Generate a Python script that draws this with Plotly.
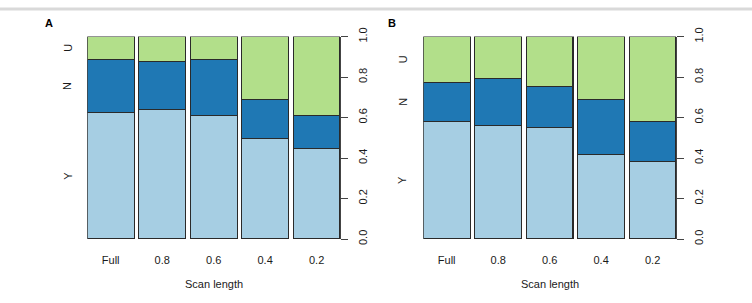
import plotly.graph_objects as go

categories = ["Full", "0.8", "0.6", "0.4", "0.2"]
# Panel A proportions
a_Y = [0.623, 0.640, 0.610, 0.498, 0.447]
a_N = [0.263, 0.236, 0.276, 0.192, 0.162]
a_U = [0.114, 0.124, 0.114, 0.310, 0.391]
# Panel B proportions
b_Y = [0.581, 0.560, 0.549, 0.416, 0.385]
b_N = [0.192, 0.235, 0.204, 0.274, 0.196]
b_U = [0.227, 0.205, 0.247, 0.310, 0.419]

series_names = ["Y", "N", "U"]
colors = {"Y": "#A6CEE3", "N": "#1F78B4", "U": "#B2DF8A"}

W, H = 752, 303
FONT = "Liberation Sans, Arial, sans-serif"
TXT = "#1a1a1a"

fig = go.Figure()

panels = [
    ("x", "y", {"Y": a_Y, "N": a_N, "U": a_U}),
    ("x2", "y2", {"Y": b_Y, "N": b_N, "U": b_U}),
]
for xa, ya, data in panels:
    for s in series_names:
        fig.add_trace(go.Bar(
            x=categories, y=data[s], name=s, xaxis=xa, yaxis=ya,
            marker=dict(color=colors[s], line=dict(color="#2a2a2a", width=1.1)),
            showlegend=False, hoverinfo="skip",
        ))

px = lambda v: v / W
py = lambda v: (H - v) / H

y_dom = [py(242), py(29)]
xA = [px(87.3), px(340)]
xB = [px(423.3), px(676)]
xrange = [-0.4545, 4.4545]

xcommon = dict(type="category", range=xrange, showline=False, showgrid=False,
               zeroline=False, ticks="", ticklabelstandoff=13,
               tickfont=dict(family=FONT, size=11, color=TXT), fixedrange=True)
ycommon = dict(range=[0, 1], side="right", showgrid=False, zeroline=False,
               showline=True, linecolor="#444", linewidth=1,
               ticks="outside", ticklen=7, tickcolor="#444", tickwidth=1,
               tickvals=[0, 0.2, 0.4, 0.6, 0.8, 1.0], tickformat=".1f",
               tickangle=-90, ticklabelstandoff=6,
               tickfont=dict(family=FONT, size=11, color=TXT), fixedrange=True)

fig.update_layout(
    width=W, height=H, margin=dict(l=0, r=0, t=0, b=0),
    paper_bgcolor="white", plot_bgcolor="white",
    barmode="stack", bargap=0.0909,
    xaxis=dict(domain=xA, anchor="y", **xcommon),
    yaxis=dict(domain=y_dom, anchor="x", **ycommon),
    xaxis2=dict(domain=xB, anchor="y2", **xcommon),
    yaxis2=dict(domain=y_dom, anchor="x2", **ycommon),
)

# top frame line
fig.add_shape(type="line", xref="paper", yref="paper", x0=0, x1=1, y0=1, y1=1,
              line=dict(color="#d9d9d9", width=3))

anns = []
# segment labels at midpoints of the first bar
for (xa, ya, data), lx in zip(panels, [67.7, 402.7]):
    cum = 0
    for s in series_names:
        v = data[s][0]
        anns.append(dict(text=s, xref="paper", yref=ya, x=px(lx), y=cum + v / 2,
                         showarrow=False, textangle=-90, xanchor="center", yanchor="middle",
                         font=dict(family=FONT, size=11, color=TXT)))
        cum += v
# axis titles
for cx in [213.6, 549.6]:
    anns.append(dict(text="Scan length", xref="paper", yref="paper", x=px(cx), y=py(289.5),
                     showarrow=False, xanchor="center", yanchor="middle",
                     font=dict(family=FONT, size=11, color=TXT)))
# panel letters
for t, cx in [("A", 49), ("B", 391.5)]:
    anns.append(dict(text="<b>%s</b>" % t, xref="paper", yref="paper", x=px(cx), y=py(15),
                     showarrow=False, xanchor="center", yanchor="middle",
                     font=dict(family=FONT, size=11, color="black")))
fig.update_layout(annotations=anns)

fig.write_html("out.html")
